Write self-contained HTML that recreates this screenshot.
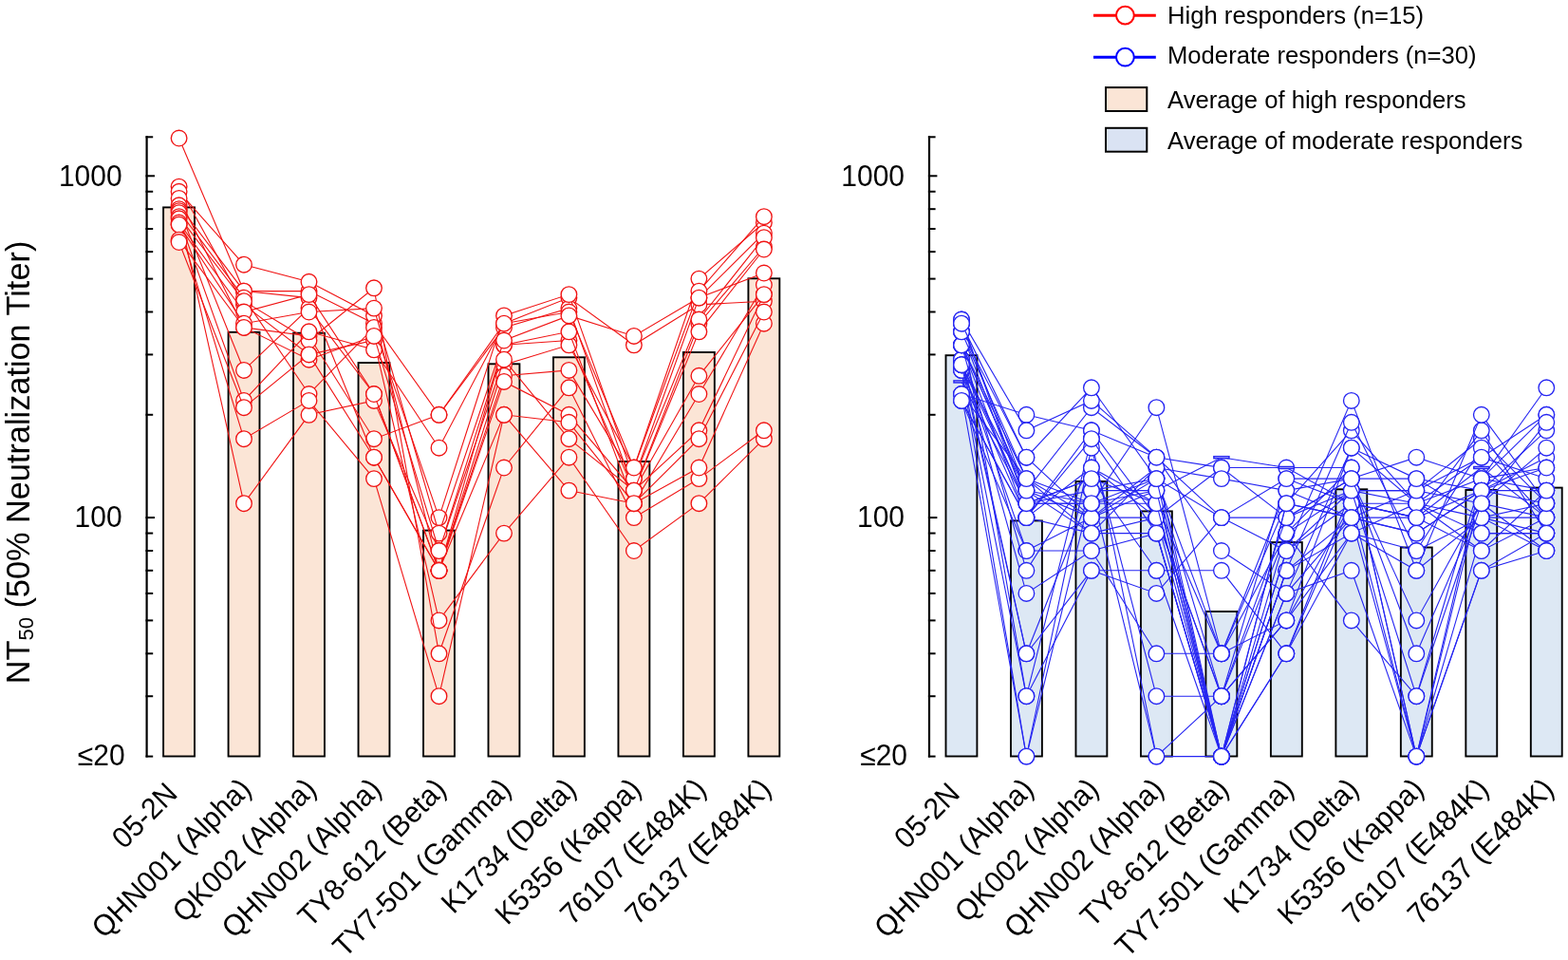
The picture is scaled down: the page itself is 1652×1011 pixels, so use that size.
<!DOCTYPE html><html><head><meta charset="utf-8"><style>html,body{margin:0;padding:0;background:#fff;}svg{display:block;}text{font-family:"Liberation Sans",Arial,sans-serif;fill:#000;}</style></head><body>
<svg width="1652" height="1011" viewBox="0 0 1652 1011">
<rect x="0" y="0" width="1652" height="1011" fill="#fff"/>
<rect x="172.10" y="218.40" width="32.9" height="578.10" fill="#fbe5d6" stroke="#000" stroke-width="1.9"/>
<rect x="240.58" y="349.80" width="32.9" height="446.70" fill="#fbe5d6" stroke="#000" stroke-width="1.9"/>
<rect x="309.06" y="350.70" width="32.9" height="445.80" fill="#fbe5d6" stroke="#000" stroke-width="1.9"/>
<rect x="377.54" y="382.00" width="32.9" height="414.50" fill="#fbe5d6" stroke="#000" stroke-width="1.9"/>
<rect x="446.02" y="558.60" width="32.9" height="237.90" fill="#fbe5d6" stroke="#000" stroke-width="1.9"/>
<rect x="514.50" y="383.30" width="32.9" height="413.20" fill="#fbe5d6" stroke="#000" stroke-width="1.9"/>
<rect x="582.98" y="376.30" width="32.9" height="420.20" fill="#fbe5d6" stroke="#000" stroke-width="1.9"/>
<rect x="651.46" y="486.00" width="32.9" height="310.50" fill="#fbe5d6" stroke="#000" stroke-width="1.9"/>
<rect x="719.94" y="371.00" width="32.9" height="425.50" fill="#fbe5d6" stroke="#000" stroke-width="1.9"/>
<rect x="788.42" y="293.30" width="32.9" height="503.20" fill="#fbe5d6" stroke="#000" stroke-width="1.9"/>
<line x1="154.6" y1="143.2" x2="154.6" y2="797.6" stroke="#000" stroke-width="2.2"/>
<line x1="153.5" y1="144.30" x2="161.2" y2="144.30" stroke="#000" stroke-width="2"/>
<line x1="153.5" y1="201.76" x2="161.2" y2="201.76" stroke="#000" stroke-width="2"/>
<line x1="153.5" y1="220.17" x2="161.2" y2="220.17" stroke="#000" stroke-width="2"/>
<line x1="153.5" y1="241.03" x2="161.2" y2="241.03" stroke="#000" stroke-width="2"/>
<line x1="153.5" y1="265.12" x2="161.2" y2="265.12" stroke="#000" stroke-width="2"/>
<line x1="153.5" y1="293.61" x2="161.2" y2="293.61" stroke="#000" stroke-width="2"/>
<line x1="153.5" y1="328.48" x2="161.2" y2="328.48" stroke="#000" stroke-width="2"/>
<line x1="153.5" y1="373.43" x2="161.2" y2="373.43" stroke="#000" stroke-width="2"/>
<line x1="153.5" y1="436.79" x2="161.2" y2="436.79" stroke="#000" stroke-width="2"/>
<line x1="153.5" y1="561.56" x2="161.2" y2="561.56" stroke="#000" stroke-width="2"/>
<line x1="153.5" y1="579.97" x2="161.2" y2="579.97" stroke="#000" stroke-width="2"/>
<line x1="153.5" y1="600.83" x2="161.2" y2="600.83" stroke="#000" stroke-width="2"/>
<line x1="153.5" y1="624.92" x2="161.2" y2="624.92" stroke="#000" stroke-width="2"/>
<line x1="153.5" y1="653.41" x2="161.2" y2="653.41" stroke="#000" stroke-width="2"/>
<line x1="153.5" y1="688.28" x2="161.2" y2="688.28" stroke="#000" stroke-width="2"/>
<line x1="153.5" y1="733.23" x2="161.2" y2="733.23" stroke="#000" stroke-width="2"/>
<line x1="153.5" y1="796.59" x2="161.2" y2="796.59" stroke="#000" stroke-width="2"/>
<line x1="153.5" y1="185.30" x2="163.0" y2="185.30" stroke="#000" stroke-width="2"/>
<line x1="153.5" y1="545.10" x2="163.0" y2="545.10" stroke="#000" stroke-width="2"/>
<text transform="translate(128.6,195.6) scale(1,1.04)" font-size="30" text-anchor="end">1000</text>
<text transform="translate(128.6,555.2) scale(1,1.04)" font-size="30" text-anchor="end">100</text>
<text transform="translate(131.6,805.5) scale(1,1.04)" font-size="30" text-anchor="end">≤20</text>
<text transform="translate(188.45,837.40) rotate(-45) scale(1,1.04)" font-size="30" text-anchor="end">05-2N</text>
<text transform="translate(266.23,832.70) rotate(-45) scale(1,1.04)" font-size="30" text-anchor="end">QHN001 (Alpha)</text>
<text transform="translate(334.71,832.70) rotate(-45) scale(1,1.04)" font-size="30" text-anchor="end">QK002 (Alpha)</text>
<text transform="translate(403.19,832.70) rotate(-45) scale(1,1.04)" font-size="30" text-anchor="end">QHN002 (Alpha)</text>
<text transform="translate(471.67,832.70) rotate(-45) scale(1,1.04)" font-size="30" text-anchor="end">TY8-612 (Beta)</text>
<text transform="translate(540.15,832.70) rotate(-45) scale(1,1.04)" font-size="30" text-anchor="end">TY7-501 (Gamma)</text>
<text transform="translate(608.63,832.70) rotate(-45) scale(1,1.04)" font-size="30" text-anchor="end">K1734 (Delta)</text>
<text transform="translate(677.11,832.70) rotate(-45) scale(1,1.04)" font-size="30" text-anchor="end">K5356 (Kappa)</text>
<text transform="translate(745.59,832.70) rotate(-45) scale(1,1.04)" font-size="30" text-anchor="end">76107 (E484K)</text>
<text transform="translate(814.07,832.70) rotate(-45) scale(1,1.04)" font-size="30" text-anchor="end">76137 (E484K)</text>
<rect x="996.50" y="374.20" width="32.9" height="422.30" fill="#dde8f4" stroke="#000" stroke-width="1.9"/>
<rect x="1064.98" y="548.40" width="32.9" height="248.10" fill="#dde8f4" stroke="#000" stroke-width="1.9"/>
<rect x="1133.46" y="507.00" width="32.9" height="289.50" fill="#dde8f4" stroke="#000" stroke-width="1.9"/>
<rect x="1201.94" y="538.40" width="32.9" height="258.10" fill="#dde8f4" stroke="#000" stroke-width="1.9"/>
<rect x="1270.42" y="644.00" width="32.9" height="152.50" fill="#dde8f4" stroke="#000" stroke-width="1.9"/>
<rect x="1338.90" y="571.10" width="32.9" height="225.40" fill="#dde8f4" stroke="#000" stroke-width="1.9"/>
<rect x="1407.38" y="515.30" width="32.9" height="281.20" fill="#dde8f4" stroke="#000" stroke-width="1.9"/>
<rect x="1475.86" y="576.50" width="32.9" height="220.00" fill="#dde8f4" stroke="#000" stroke-width="1.9"/>
<rect x="1544.34" y="516.00" width="32.9" height="280.50" fill="#dde8f4" stroke="#000" stroke-width="1.9"/>
<rect x="1612.82" y="513.60" width="32.9" height="282.90" fill="#dde8f4" stroke="#000" stroke-width="1.9"/>
<line x1="979.0" y1="143.2" x2="979.0" y2="797.6" stroke="#000" stroke-width="2.2"/>
<line x1="977.9" y1="144.30" x2="985.6" y2="144.30" stroke="#000" stroke-width="2"/>
<line x1="977.9" y1="201.76" x2="985.6" y2="201.76" stroke="#000" stroke-width="2"/>
<line x1="977.9" y1="220.17" x2="985.6" y2="220.17" stroke="#000" stroke-width="2"/>
<line x1="977.9" y1="241.03" x2="985.6" y2="241.03" stroke="#000" stroke-width="2"/>
<line x1="977.9" y1="265.12" x2="985.6" y2="265.12" stroke="#000" stroke-width="2"/>
<line x1="977.9" y1="293.61" x2="985.6" y2="293.61" stroke="#000" stroke-width="2"/>
<line x1="977.9" y1="328.48" x2="985.6" y2="328.48" stroke="#000" stroke-width="2"/>
<line x1="977.9" y1="373.43" x2="985.6" y2="373.43" stroke="#000" stroke-width="2"/>
<line x1="977.9" y1="436.79" x2="985.6" y2="436.79" stroke="#000" stroke-width="2"/>
<line x1="977.9" y1="561.56" x2="985.6" y2="561.56" stroke="#000" stroke-width="2"/>
<line x1="977.9" y1="579.97" x2="985.6" y2="579.97" stroke="#000" stroke-width="2"/>
<line x1="977.9" y1="600.83" x2="985.6" y2="600.83" stroke="#000" stroke-width="2"/>
<line x1="977.9" y1="624.92" x2="985.6" y2="624.92" stroke="#000" stroke-width="2"/>
<line x1="977.9" y1="653.41" x2="985.6" y2="653.41" stroke="#000" stroke-width="2"/>
<line x1="977.9" y1="688.28" x2="985.6" y2="688.28" stroke="#000" stroke-width="2"/>
<line x1="977.9" y1="733.23" x2="985.6" y2="733.23" stroke="#000" stroke-width="2"/>
<line x1="977.9" y1="796.59" x2="985.6" y2="796.59" stroke="#000" stroke-width="2"/>
<line x1="977.9" y1="185.30" x2="987.4" y2="185.30" stroke="#000" stroke-width="2"/>
<line x1="977.9" y1="545.10" x2="987.4" y2="545.10" stroke="#000" stroke-width="2"/>
<text transform="translate(953.0,195.6) scale(1,1.04)" font-size="30" text-anchor="end">1000</text>
<text transform="translate(953.0,555.2) scale(1,1.04)" font-size="30" text-anchor="end">100</text>
<text transform="translate(956.0,805.5) scale(1,1.04)" font-size="30" text-anchor="end">≤20</text>
<text transform="translate(1012.85,837.40) rotate(-45) scale(1,1.04)" font-size="30" text-anchor="end">05-2N</text>
<text transform="translate(1090.63,832.70) rotate(-45) scale(1,1.04)" font-size="30" text-anchor="end">QHN001 (Alpha)</text>
<text transform="translate(1159.11,832.70) rotate(-45) scale(1,1.04)" font-size="30" text-anchor="end">QK002 (Alpha)</text>
<text transform="translate(1227.59,832.70) rotate(-45) scale(1,1.04)" font-size="30" text-anchor="end">QHN002 (Alpha)</text>
<text transform="translate(1296.07,832.70) rotate(-45) scale(1,1.04)" font-size="30" text-anchor="end">TY8-612 (Beta)</text>
<text transform="translate(1364.55,832.70) rotate(-45) scale(1,1.04)" font-size="30" text-anchor="end">TY7-501 (Gamma)</text>
<text transform="translate(1433.03,832.70) rotate(-45) scale(1,1.04)" font-size="30" text-anchor="end">K1734 (Delta)</text>
<text transform="translate(1501.51,832.70) rotate(-45) scale(1,1.04)" font-size="30" text-anchor="end">K5356 (Kappa)</text>
<text transform="translate(1569.99,832.70) rotate(-45) scale(1,1.04)" font-size="30" text-anchor="end">76107 (E484K)</text>
<text transform="translate(1638.47,832.70) rotate(-45) scale(1,1.04)" font-size="30" text-anchor="end">76137 (E484K)</text>
<path d="M188.6,145.5 L257.0,306.6 L325.5,306.6 L394.0,340.7 L462.5,436.8 L531.0,340.7 L599.4,313.6 L667.9,363.3 L736.4,320.9 L804.9,317.2" fill="none" stroke="#f01414" stroke-width="1.1"/>
<circle cx="188.6" cy="145.5" r="8.3" fill="#fff" stroke="#f01414" stroke-width="1.35"/>
<circle cx="257.0" cy="306.6" r="8.3" fill="#fff" stroke="#f01414" stroke-width="1.35"/>
<circle cx="325.5" cy="306.6" r="8.3" fill="#fff" stroke="#f01414" stroke-width="1.35"/>
<circle cx="394.0" cy="340.7" r="8.3" fill="#fff" stroke="#f01414" stroke-width="1.35"/>
<circle cx="462.5" cy="436.8" r="8.3" fill="#fff" stroke="#f01414" stroke-width="1.35"/>
<circle cx="531.0" cy="340.7" r="8.3" fill="#fff" stroke="#f01414" stroke-width="1.35"/>
<circle cx="599.4" cy="313.6" r="8.3" fill="#fff" stroke="#f01414" stroke-width="1.35"/>
<circle cx="667.9" cy="363.3" r="8.3" fill="#fff" stroke="#f01414" stroke-width="1.35"/>
<circle cx="736.4" cy="320.9" r="8.3" fill="#fff" stroke="#f01414" stroke-width="1.35"/>
<circle cx="804.9" cy="317.2" r="8.3" fill="#fff" stroke="#f01414" stroke-width="1.35"/>
<path d="M188.6,196.6 L257.0,320.9 L325.5,373.4 L394.0,358.5 L462.5,653.4 L531.0,561.6 L599.4,481.7 L667.9,580.0 L736.4,530.2 L804.9,462.2" fill="none" stroke="#f01414" stroke-width="1.1"/>
<circle cx="188.6" cy="196.6" r="8.3" fill="#fff" stroke="#f01414" stroke-width="1.35"/>
<circle cx="257.0" cy="320.9" r="8.3" fill="#fff" stroke="#f01414" stroke-width="1.35"/>
<circle cx="325.5" cy="373.4" r="8.3" fill="#fff" stroke="#f01414" stroke-width="1.35"/>
<circle cx="394.0" cy="358.5" r="8.3" fill="#fff" stroke="#f01414" stroke-width="1.35"/>
<circle cx="462.5" cy="653.4" r="8.3" fill="#fff" stroke="#f01414" stroke-width="1.35"/>
<circle cx="531.0" cy="561.6" r="8.3" fill="#fff" stroke="#f01414" stroke-width="1.35"/>
<circle cx="599.4" cy="481.7" r="8.3" fill="#fff" stroke="#f01414" stroke-width="1.35"/>
<circle cx="667.9" cy="580.0" r="8.3" fill="#fff" stroke="#f01414" stroke-width="1.35"/>
<circle cx="736.4" cy="530.2" r="8.3" fill="#fff" stroke="#f01414" stroke-width="1.35"/>
<circle cx="804.9" cy="462.2" r="8.3" fill="#fff" stroke="#f01414" stroke-width="1.35"/>
<path d="M188.6,201.8 L257.0,278.7 L325.5,296.8 L394.0,332.4 L462.5,600.8 L531.0,363.3 L599.4,358.5 L667.9,516.6 L736.4,340.7 L804.9,260.0" fill="none" stroke="#f01414" stroke-width="1.1"/>
<circle cx="188.6" cy="201.8" r="8.3" fill="#fff" stroke="#f01414" stroke-width="1.35"/>
<circle cx="257.0" cy="278.7" r="8.3" fill="#fff" stroke="#f01414" stroke-width="1.35"/>
<circle cx="325.5" cy="296.8" r="8.3" fill="#fff" stroke="#f01414" stroke-width="1.35"/>
<circle cx="394.0" cy="332.4" r="8.3" fill="#fff" stroke="#f01414" stroke-width="1.35"/>
<circle cx="462.5" cy="600.8" r="8.3" fill="#fff" stroke="#f01414" stroke-width="1.35"/>
<circle cx="531.0" cy="363.3" r="8.3" fill="#fff" stroke="#f01414" stroke-width="1.35"/>
<circle cx="599.4" cy="358.5" r="8.3" fill="#fff" stroke="#f01414" stroke-width="1.35"/>
<circle cx="667.9" cy="516.6" r="8.3" fill="#fff" stroke="#f01414" stroke-width="1.35"/>
<circle cx="736.4" cy="340.7" r="8.3" fill="#fff" stroke="#f01414" stroke-width="1.35"/>
<circle cx="804.9" cy="260.0" r="8.3" fill="#fff" stroke="#f01414" stroke-width="1.35"/>
<path d="M188.6,208.9 L257.0,344.9 L325.5,353.9 L394.0,462.2 L462.5,436.8 L531.0,344.9 L599.4,324.6 L667.9,516.6 L736.4,395.8 L804.9,310.1" fill="none" stroke="#f01414" stroke-width="1.1"/>
<circle cx="188.6" cy="208.9" r="8.3" fill="#fff" stroke="#f01414" stroke-width="1.35"/>
<circle cx="257.0" cy="344.9" r="8.3" fill="#fff" stroke="#f01414" stroke-width="1.35"/>
<circle cx="325.5" cy="353.9" r="8.3" fill="#fff" stroke="#f01414" stroke-width="1.35"/>
<circle cx="394.0" cy="462.2" r="8.3" fill="#fff" stroke="#f01414" stroke-width="1.35"/>
<circle cx="462.5" cy="436.8" r="8.3" fill="#fff" stroke="#f01414" stroke-width="1.35"/>
<circle cx="531.0" cy="344.9" r="8.3" fill="#fff" stroke="#f01414" stroke-width="1.35"/>
<circle cx="599.4" cy="324.6" r="8.3" fill="#fff" stroke="#f01414" stroke-width="1.35"/>
<circle cx="667.9" cy="516.6" r="8.3" fill="#fff" stroke="#f01414" stroke-width="1.35"/>
<circle cx="736.4" cy="395.8" r="8.3" fill="#fff" stroke="#f01414" stroke-width="1.35"/>
<circle cx="804.9" cy="310.1" r="8.3" fill="#fff" stroke="#f01414" stroke-width="1.35"/>
<path d="M188.6,216.3 L257.0,306.6 L325.5,313.6 L394.0,481.7 L462.5,600.8 L531.0,384.2 L599.4,363.3 L667.9,492.5 L736.4,293.6 L804.9,234.5" fill="none" stroke="#f01414" stroke-width="1.1"/>
<circle cx="188.6" cy="216.3" r="8.3" fill="#fff" stroke="#f01414" stroke-width="1.35"/>
<circle cx="257.0" cy="306.6" r="8.3" fill="#fff" stroke="#f01414" stroke-width="1.35"/>
<circle cx="325.5" cy="313.6" r="8.3" fill="#fff" stroke="#f01414" stroke-width="1.35"/>
<circle cx="394.0" cy="481.7" r="8.3" fill="#fff" stroke="#f01414" stroke-width="1.35"/>
<circle cx="462.5" cy="600.8" r="8.3" fill="#fff" stroke="#f01414" stroke-width="1.35"/>
<circle cx="531.0" cy="384.2" r="8.3" fill="#fff" stroke="#f01414" stroke-width="1.35"/>
<circle cx="599.4" cy="363.3" r="8.3" fill="#fff" stroke="#f01414" stroke-width="1.35"/>
<circle cx="667.9" cy="492.5" r="8.3" fill="#fff" stroke="#f01414" stroke-width="1.35"/>
<circle cx="736.4" cy="293.6" r="8.3" fill="#fff" stroke="#f01414" stroke-width="1.35"/>
<circle cx="804.9" cy="234.5" r="8.3" fill="#fff" stroke="#f01414" stroke-width="1.35"/>
<path d="M188.6,220.2 L257.0,389.9 L325.5,324.6 L394.0,415.0 L462.5,600.8 L531.0,395.8 L599.4,389.9 L667.9,504.1 L736.4,313.6 L804.9,245.6" fill="none" stroke="#f01414" stroke-width="1.1"/>
<circle cx="188.6" cy="220.2" r="8.3" fill="#fff" stroke="#f01414" stroke-width="1.35"/>
<circle cx="257.0" cy="389.9" r="8.3" fill="#fff" stroke="#f01414" stroke-width="1.35"/>
<circle cx="325.5" cy="324.6" r="8.3" fill="#fff" stroke="#f01414" stroke-width="1.35"/>
<circle cx="394.0" cy="415.0" r="8.3" fill="#fff" stroke="#f01414" stroke-width="1.35"/>
<circle cx="462.5" cy="600.8" r="8.3" fill="#fff" stroke="#f01414" stroke-width="1.35"/>
<circle cx="531.0" cy="395.8" r="8.3" fill="#fff" stroke="#f01414" stroke-width="1.35"/>
<circle cx="599.4" cy="389.9" r="8.3" fill="#fff" stroke="#f01414" stroke-width="1.35"/>
<circle cx="667.9" cy="504.1" r="8.3" fill="#fff" stroke="#f01414" stroke-width="1.35"/>
<circle cx="736.4" cy="313.6" r="8.3" fill="#fff" stroke="#f01414" stroke-width="1.35"/>
<circle cx="804.9" cy="245.6" r="8.3" fill="#fff" stroke="#f01414" stroke-width="1.35"/>
<path d="M188.6,222.1 L257.0,313.6 L325.5,415.0 L394.0,344.9 L462.5,545.1 L531.0,332.4 L599.4,310.1 L667.9,504.1 L736.4,336.5 L804.9,250.2" fill="none" stroke="#f01414" stroke-width="1.1"/>
<circle cx="188.6" cy="222.1" r="8.3" fill="#fff" stroke="#f01414" stroke-width="1.35"/>
<circle cx="257.0" cy="313.6" r="8.3" fill="#fff" stroke="#f01414" stroke-width="1.35"/>
<circle cx="325.5" cy="415.0" r="8.3" fill="#fff" stroke="#f01414" stroke-width="1.35"/>
<circle cx="394.0" cy="344.9" r="8.3" fill="#fff" stroke="#f01414" stroke-width="1.35"/>
<circle cx="462.5" cy="545.1" r="8.3" fill="#fff" stroke="#f01414" stroke-width="1.35"/>
<circle cx="531.0" cy="332.4" r="8.3" fill="#fff" stroke="#f01414" stroke-width="1.35"/>
<circle cx="599.4" cy="310.1" r="8.3" fill="#fff" stroke="#f01414" stroke-width="1.35"/>
<circle cx="667.9" cy="504.1" r="8.3" fill="#fff" stroke="#f01414" stroke-width="1.35"/>
<circle cx="736.4" cy="336.5" r="8.3" fill="#fff" stroke="#f01414" stroke-width="1.35"/>
<circle cx="804.9" cy="250.2" r="8.3" fill="#fff" stroke="#f01414" stroke-width="1.35"/>
<path d="M188.6,224.1 L257.0,530.2 L325.5,436.8 L394.0,421.9 L462.5,580.0 L531.0,363.3 L599.4,349.3 L667.9,530.2 L736.4,415.0 L804.9,300.0" fill="none" stroke="#f01414" stroke-width="1.1"/>
<circle cx="188.6" cy="224.1" r="8.3" fill="#fff" stroke="#f01414" stroke-width="1.35"/>
<circle cx="257.0" cy="530.2" r="8.3" fill="#fff" stroke="#f01414" stroke-width="1.35"/>
<circle cx="325.5" cy="436.8" r="8.3" fill="#fff" stroke="#f01414" stroke-width="1.35"/>
<circle cx="394.0" cy="421.9" r="8.3" fill="#fff" stroke="#f01414" stroke-width="1.35"/>
<circle cx="462.5" cy="580.0" r="8.3" fill="#fff" stroke="#f01414" stroke-width="1.35"/>
<circle cx="531.0" cy="363.3" r="8.3" fill="#fff" stroke="#f01414" stroke-width="1.35"/>
<circle cx="599.4" cy="349.3" r="8.3" fill="#fff" stroke="#f01414" stroke-width="1.35"/>
<circle cx="667.9" cy="530.2" r="8.3" fill="#fff" stroke="#f01414" stroke-width="1.35"/>
<circle cx="736.4" cy="415.0" r="8.3" fill="#fff" stroke="#f01414" stroke-width="1.35"/>
<circle cx="804.9" cy="300.0" r="8.3" fill="#fff" stroke="#f01414" stroke-width="1.35"/>
<path d="M188.6,228.2 L257.0,317.2 L325.5,358.5 L394.0,303.3 L462.5,688.3 L531.0,492.5 L599.4,408.3 L667.9,545.1 L736.4,504.1 L804.9,453.3" fill="none" stroke="#f01414" stroke-width="1.1"/>
<circle cx="188.6" cy="228.2" r="8.3" fill="#fff" stroke="#f01414" stroke-width="1.35"/>
<circle cx="257.0" cy="317.2" r="8.3" fill="#fff" stroke="#f01414" stroke-width="1.35"/>
<circle cx="325.5" cy="358.5" r="8.3" fill="#fff" stroke="#f01414" stroke-width="1.35"/>
<circle cx="394.0" cy="303.3" r="8.3" fill="#fff" stroke="#f01414" stroke-width="1.35"/>
<circle cx="462.5" cy="688.3" r="8.3" fill="#fff" stroke="#f01414" stroke-width="1.35"/>
<circle cx="531.0" cy="492.5" r="8.3" fill="#fff" stroke="#f01414" stroke-width="1.35"/>
<circle cx="599.4" cy="408.3" r="8.3" fill="#fff" stroke="#f01414" stroke-width="1.35"/>
<circle cx="667.9" cy="545.1" r="8.3" fill="#fff" stroke="#f01414" stroke-width="1.35"/>
<circle cx="736.4" cy="504.1" r="8.3" fill="#fff" stroke="#f01414" stroke-width="1.35"/>
<circle cx="804.9" cy="453.3" r="8.3" fill="#fff" stroke="#f01414" stroke-width="1.35"/>
<path d="M188.6,230.3 L257.0,421.9 L325.5,349.3 L394.0,368.3 L462.5,471.7 L531.0,340.7 L599.4,328.5 L667.9,492.5 L736.4,306.6 L804.9,228.2" fill="none" stroke="#f01414" stroke-width="1.1"/>
<circle cx="188.6" cy="230.3" r="8.3" fill="#fff" stroke="#f01414" stroke-width="1.35"/>
<circle cx="257.0" cy="421.9" r="8.3" fill="#fff" stroke="#f01414" stroke-width="1.35"/>
<circle cx="325.5" cy="349.3" r="8.3" fill="#fff" stroke="#f01414" stroke-width="1.35"/>
<circle cx="394.0" cy="368.3" r="8.3" fill="#fff" stroke="#f01414" stroke-width="1.35"/>
<circle cx="462.5" cy="471.7" r="8.3" fill="#fff" stroke="#f01414" stroke-width="1.35"/>
<circle cx="531.0" cy="340.7" r="8.3" fill="#fff" stroke="#f01414" stroke-width="1.35"/>
<circle cx="599.4" cy="328.5" r="8.3" fill="#fff" stroke="#f01414" stroke-width="1.35"/>
<circle cx="667.9" cy="492.5" r="8.3" fill="#fff" stroke="#f01414" stroke-width="1.35"/>
<circle cx="736.4" cy="306.6" r="8.3" fill="#fff" stroke="#f01414" stroke-width="1.35"/>
<circle cx="804.9" cy="228.2" r="8.3" fill="#fff" stroke="#f01414" stroke-width="1.35"/>
<path d="M188.6,234.5 L257.0,328.5 L325.5,310.1 L394.0,415.0 L462.5,600.8 L531.0,401.9 L599.4,436.8 L667.9,516.6 L736.4,349.3 L804.9,262.5" fill="none" stroke="#f01414" stroke-width="1.1"/>
<circle cx="188.6" cy="234.5" r="8.3" fill="#fff" stroke="#f01414" stroke-width="1.35"/>
<circle cx="257.0" cy="328.5" r="8.3" fill="#fff" stroke="#f01414" stroke-width="1.35"/>
<circle cx="325.5" cy="310.1" r="8.3" fill="#fff" stroke="#f01414" stroke-width="1.35"/>
<circle cx="394.0" cy="415.0" r="8.3" fill="#fff" stroke="#f01414" stroke-width="1.35"/>
<circle cx="462.5" cy="600.8" r="8.3" fill="#fff" stroke="#f01414" stroke-width="1.35"/>
<circle cx="531.0" cy="401.9" r="8.3" fill="#fff" stroke="#f01414" stroke-width="1.35"/>
<circle cx="599.4" cy="436.8" r="8.3" fill="#fff" stroke="#f01414" stroke-width="1.35"/>
<circle cx="667.9" cy="516.6" r="8.3" fill="#fff" stroke="#f01414" stroke-width="1.35"/>
<circle cx="736.4" cy="349.3" r="8.3" fill="#fff" stroke="#f01414" stroke-width="1.35"/>
<circle cx="804.9" cy="262.5" r="8.3" fill="#fff" stroke="#f01414" stroke-width="1.35"/>
<path d="M188.6,236.6 L257.0,340.7 L325.5,328.5 L394.0,324.6 L462.5,561.6 L531.0,358.5 L599.4,332.4 L667.9,353.9 L736.4,313.6 L804.9,287.5" fill="none" stroke="#f01414" stroke-width="1.1"/>
<circle cx="188.6" cy="236.6" r="8.3" fill="#fff" stroke="#f01414" stroke-width="1.35"/>
<circle cx="257.0" cy="340.7" r="8.3" fill="#fff" stroke="#f01414" stroke-width="1.35"/>
<circle cx="325.5" cy="328.5" r="8.3" fill="#fff" stroke="#f01414" stroke-width="1.35"/>
<circle cx="394.0" cy="324.6" r="8.3" fill="#fff" stroke="#f01414" stroke-width="1.35"/>
<circle cx="462.5" cy="561.6" r="8.3" fill="#fff" stroke="#f01414" stroke-width="1.35"/>
<circle cx="531.0" cy="358.5" r="8.3" fill="#fff" stroke="#f01414" stroke-width="1.35"/>
<circle cx="599.4" cy="332.4" r="8.3" fill="#fff" stroke="#f01414" stroke-width="1.35"/>
<circle cx="667.9" cy="353.9" r="8.3" fill="#fff" stroke="#f01414" stroke-width="1.35"/>
<circle cx="736.4" cy="313.6" r="8.3" fill="#fff" stroke="#f01414" stroke-width="1.35"/>
<circle cx="804.9" cy="287.5" r="8.3" fill="#fff" stroke="#f01414" stroke-width="1.35"/>
<path d="M188.6,236.6 L257.0,462.2 L325.5,421.9 L394.0,504.1 L462.5,733.2 L531.0,436.8 L599.4,444.8 L667.9,530.2 L736.4,492.5 L804.9,340.7" fill="none" stroke="#f01414" stroke-width="1.1"/>
<circle cx="188.6" cy="236.6" r="8.3" fill="#fff" stroke="#f01414" stroke-width="1.35"/>
<circle cx="257.0" cy="462.2" r="8.3" fill="#fff" stroke="#f01414" stroke-width="1.35"/>
<circle cx="325.5" cy="421.9" r="8.3" fill="#fff" stroke="#f01414" stroke-width="1.35"/>
<circle cx="394.0" cy="504.1" r="8.3" fill="#fff" stroke="#f01414" stroke-width="1.35"/>
<circle cx="462.5" cy="733.2" r="8.3" fill="#fff" stroke="#f01414" stroke-width="1.35"/>
<circle cx="531.0" cy="436.8" r="8.3" fill="#fff" stroke="#f01414" stroke-width="1.35"/>
<circle cx="599.4" cy="444.8" r="8.3" fill="#fff" stroke="#f01414" stroke-width="1.35"/>
<circle cx="667.9" cy="530.2" r="8.3" fill="#fff" stroke="#f01414" stroke-width="1.35"/>
<circle cx="736.4" cy="492.5" r="8.3" fill="#fff" stroke="#f01414" stroke-width="1.35"/>
<circle cx="804.9" cy="340.7" r="8.3" fill="#fff" stroke="#f01414" stroke-width="1.35"/>
<path d="M188.6,252.6 L257.0,344.9 L325.5,378.7 L394.0,353.9 L462.5,580.0 L531.0,378.7 L599.4,462.2 L667.9,516.6 L736.4,453.3 L804.9,310.1" fill="none" stroke="#f01414" stroke-width="1.1"/>
<circle cx="188.6" cy="252.6" r="8.3" fill="#fff" stroke="#f01414" stroke-width="1.35"/>
<circle cx="257.0" cy="344.9" r="8.3" fill="#fff" stroke="#f01414" stroke-width="1.35"/>
<circle cx="325.5" cy="378.7" r="8.3" fill="#fff" stroke="#f01414" stroke-width="1.35"/>
<circle cx="394.0" cy="353.9" r="8.3" fill="#fff" stroke="#f01414" stroke-width="1.35"/>
<circle cx="462.5" cy="580.0" r="8.3" fill="#fff" stroke="#f01414" stroke-width="1.35"/>
<circle cx="531.0" cy="378.7" r="8.3" fill="#fff" stroke="#f01414" stroke-width="1.35"/>
<circle cx="599.4" cy="462.2" r="8.3" fill="#fff" stroke="#f01414" stroke-width="1.35"/>
<circle cx="667.9" cy="516.6" r="8.3" fill="#fff" stroke="#f01414" stroke-width="1.35"/>
<circle cx="736.4" cy="453.3" r="8.3" fill="#fff" stroke="#f01414" stroke-width="1.35"/>
<circle cx="804.9" cy="310.1" r="8.3" fill="#fff" stroke="#f01414" stroke-width="1.35"/>
<path d="M188.6,255.0 L257.0,429.2 L325.5,373.4 L394.0,481.7 L462.5,600.8 L531.0,436.8 L599.4,516.6 L667.9,530.2 L736.4,462.2 L804.9,328.5" fill="none" stroke="#f01414" stroke-width="1.1"/>
<circle cx="188.6" cy="255.0" r="8.3" fill="#fff" stroke="#f01414" stroke-width="1.35"/>
<circle cx="257.0" cy="429.2" r="8.3" fill="#fff" stroke="#f01414" stroke-width="1.35"/>
<circle cx="325.5" cy="373.4" r="8.3" fill="#fff" stroke="#f01414" stroke-width="1.35"/>
<circle cx="394.0" cy="481.7" r="8.3" fill="#fff" stroke="#f01414" stroke-width="1.35"/>
<circle cx="462.5" cy="600.8" r="8.3" fill="#fff" stroke="#f01414" stroke-width="1.35"/>
<circle cx="531.0" cy="436.8" r="8.3" fill="#fff" stroke="#f01414" stroke-width="1.35"/>
<circle cx="599.4" cy="516.6" r="8.3" fill="#fff" stroke="#f01414" stroke-width="1.35"/>
<circle cx="667.9" cy="530.2" r="8.3" fill="#fff" stroke="#f01414" stroke-width="1.35"/>
<circle cx="736.4" cy="462.2" r="8.3" fill="#fff" stroke="#f01414" stroke-width="1.35"/>
<circle cx="804.9" cy="328.5" r="8.3" fill="#fff" stroke="#f01414" stroke-width="1.35"/>
<path d="M1013.0,389.9 L1081.4,545.1 L1149.9,453.3 L1218.4,545.1 L1286.9,492.5 L1355.3,492.5 L1423.8,492.5 L1492.3,796.6 L1560.8,516.6 L1629.3,530.2" fill="none" stroke="#2626f2" stroke-width="1.1"/>
<circle cx="1013.0" cy="389.9" r="8.3" fill="#fff" stroke="#2626f2" stroke-width="1.35"/>
<circle cx="1081.4" cy="545.1" r="8.3" fill="#fff" stroke="#2626f2" stroke-width="1.35"/>
<circle cx="1149.9" cy="453.3" r="8.3" fill="#fff" stroke="#2626f2" stroke-width="1.35"/>
<circle cx="1218.4" cy="545.1" r="8.3" fill="#fff" stroke="#2626f2" stroke-width="1.35"/>
<circle cx="1286.9" cy="492.5" r="8.3" fill="#fff" stroke="#2626f2" stroke-width="1.35"/>
<circle cx="1355.3" cy="492.5" r="8.3" fill="#fff" stroke="#2626f2" stroke-width="1.35"/>
<circle cx="1423.8" cy="492.5" r="8.3" fill="#fff" stroke="#2626f2" stroke-width="1.35"/>
<circle cx="1492.3" cy="796.6" r="8.3" fill="#fff" stroke="#2626f2" stroke-width="1.35"/>
<circle cx="1560.8" cy="516.6" r="8.3" fill="#fff" stroke="#2626f2" stroke-width="1.35"/>
<circle cx="1629.3" cy="530.2" r="8.3" fill="#fff" stroke="#2626f2" stroke-width="1.35"/>
<path d="M1013.0,401.9 L1081.4,530.2 L1149.9,530.2 L1218.4,516.6 L1286.9,481.7 L1355.3,492.5 L1423.8,530.2 L1492.3,545.1 L1560.8,492.5 L1629.3,545.1" fill="none" stroke="#2626f2" stroke-width="1.1"/>
<rect x="1005.0" y="400.9" width="16.0" height="2.0" fill="#fff" stroke="#2626f2" stroke-width="1.5"/>
<rect x="1073.4" y="529.2" width="16.0" height="2.0" fill="#fff" stroke="#2626f2" stroke-width="1.5"/>
<rect x="1141.9" y="529.2" width="16.0" height="2.0" fill="#fff" stroke="#2626f2" stroke-width="1.5"/>
<rect x="1210.4" y="515.6" width="16.0" height="2.0" fill="#fff" stroke="#2626f2" stroke-width="1.5"/>
<rect x="1278.9" y="480.7" width="16.0" height="2.0" fill="#fff" stroke="#2626f2" stroke-width="1.5"/>
<rect x="1347.3" y="491.5" width="16.0" height="2.0" fill="#fff" stroke="#2626f2" stroke-width="1.5"/>
<rect x="1415.8" y="529.2" width="16.0" height="2.0" fill="#fff" stroke="#2626f2" stroke-width="1.5"/>
<rect x="1484.3" y="544.1" width="16.0" height="2.0" fill="#fff" stroke="#2626f2" stroke-width="1.5"/>
<rect x="1552.8" y="491.5" width="16.0" height="2.0" fill="#fff" stroke="#2626f2" stroke-width="1.5"/>
<rect x="1621.3" y="544.1" width="16.0" height="2.0" fill="#fff" stroke="#2626f2" stroke-width="1.5"/>
<path d="M1013.0,389.9 L1081.4,796.6 L1149.9,516.6 L1218.4,796.6 L1286.9,796.6 L1355.3,580.0 L1423.8,530.2 L1492.3,545.1 L1560.8,516.6 L1629.3,481.7" fill="none" stroke="#2626f2" stroke-width="1.1"/>
<circle cx="1013.0" cy="389.9" r="8.3" fill="#fff" stroke="#2626f2" stroke-width="1.35"/>
<circle cx="1081.4" cy="796.6" r="8.3" fill="#fff" stroke="#2626f2" stroke-width="1.35"/>
<circle cx="1149.9" cy="516.6" r="8.3" fill="#fff" stroke="#2626f2" stroke-width="1.35"/>
<circle cx="1218.4" cy="796.6" r="8.3" fill="#fff" stroke="#2626f2" stroke-width="1.35"/>
<circle cx="1286.9" cy="796.6" r="8.3" fill="#fff" stroke="#2626f2" stroke-width="1.35"/>
<circle cx="1355.3" cy="580.0" r="8.3" fill="#fff" stroke="#2626f2" stroke-width="1.35"/>
<circle cx="1423.8" cy="530.2" r="8.3" fill="#fff" stroke="#2626f2" stroke-width="1.35"/>
<circle cx="1492.3" cy="545.1" r="8.3" fill="#fff" stroke="#2626f2" stroke-width="1.35"/>
<circle cx="1560.8" cy="516.6" r="8.3" fill="#fff" stroke="#2626f2" stroke-width="1.35"/>
<circle cx="1629.3" cy="481.7" r="8.3" fill="#fff" stroke="#2626f2" stroke-width="1.35"/>
<path d="M1013.0,389.9 L1081.4,733.2 L1149.9,462.2 L1218.4,796.6 L1286.9,733.2 L1355.3,653.4 L1423.8,530.2 L1492.3,530.2 L1560.8,561.6 L1629.3,561.6" fill="none" stroke="#2626f2" stroke-width="1.1"/>
<circle cx="1013.0" cy="389.9" r="8.3" fill="#fff" stroke="#2626f2" stroke-width="1.35"/>
<circle cx="1081.4" cy="733.2" r="8.3" fill="#fff" stroke="#2626f2" stroke-width="1.35"/>
<circle cx="1149.9" cy="462.2" r="8.3" fill="#fff" stroke="#2626f2" stroke-width="1.35"/>
<circle cx="1218.4" cy="796.6" r="8.3" fill="#fff" stroke="#2626f2" stroke-width="1.35"/>
<circle cx="1286.9" cy="733.2" r="8.3" fill="#fff" stroke="#2626f2" stroke-width="1.35"/>
<circle cx="1355.3" cy="653.4" r="8.3" fill="#fff" stroke="#2626f2" stroke-width="1.35"/>
<circle cx="1423.8" cy="530.2" r="8.3" fill="#fff" stroke="#2626f2" stroke-width="1.35"/>
<circle cx="1492.3" cy="530.2" r="8.3" fill="#fff" stroke="#2626f2" stroke-width="1.35"/>
<circle cx="1560.8" cy="561.6" r="8.3" fill="#fff" stroke="#2626f2" stroke-width="1.35"/>
<circle cx="1629.3" cy="561.6" r="8.3" fill="#fff" stroke="#2626f2" stroke-width="1.35"/>
<path d="M1013.0,415.0 L1081.4,796.6 L1149.9,471.7 L1218.4,733.2 L1286.9,733.2 L1355.3,504.1 L1423.8,530.2 L1492.3,796.6 L1560.8,561.6 L1629.3,561.6" fill="none" stroke="#2626f2" stroke-width="1.1"/>
<circle cx="1013.0" cy="415.0" r="8.3" fill="#fff" stroke="#2626f2" stroke-width="1.35"/>
<circle cx="1081.4" cy="796.6" r="8.3" fill="#fff" stroke="#2626f2" stroke-width="1.35"/>
<circle cx="1149.9" cy="471.7" r="8.3" fill="#fff" stroke="#2626f2" stroke-width="1.35"/>
<circle cx="1218.4" cy="733.2" r="8.3" fill="#fff" stroke="#2626f2" stroke-width="1.35"/>
<circle cx="1286.9" cy="733.2" r="8.3" fill="#fff" stroke="#2626f2" stroke-width="1.35"/>
<circle cx="1355.3" cy="504.1" r="8.3" fill="#fff" stroke="#2626f2" stroke-width="1.35"/>
<circle cx="1423.8" cy="530.2" r="8.3" fill="#fff" stroke="#2626f2" stroke-width="1.35"/>
<circle cx="1492.3" cy="796.6" r="8.3" fill="#fff" stroke="#2626f2" stroke-width="1.35"/>
<circle cx="1560.8" cy="561.6" r="8.3" fill="#fff" stroke="#2626f2" stroke-width="1.35"/>
<circle cx="1629.3" cy="561.6" r="8.3" fill="#fff" stroke="#2626f2" stroke-width="1.35"/>
<path d="M1013.0,363.3 L1081.4,516.6 L1149.9,530.2 L1218.4,530.2 L1286.9,796.6 L1355.3,561.6 L1423.8,653.4 L1492.3,733.2 L1560.8,504.1 L1629.3,492.5" fill="none" stroke="#2626f2" stroke-width="1.1"/>
<circle cx="1013.0" cy="363.3" r="8.3" fill="#fff" stroke="#2626f2" stroke-width="1.35"/>
<circle cx="1081.4" cy="516.6" r="8.3" fill="#fff" stroke="#2626f2" stroke-width="1.35"/>
<circle cx="1149.9" cy="530.2" r="8.3" fill="#fff" stroke="#2626f2" stroke-width="1.35"/>
<circle cx="1218.4" cy="530.2" r="8.3" fill="#fff" stroke="#2626f2" stroke-width="1.35"/>
<circle cx="1286.9" cy="796.6" r="8.3" fill="#fff" stroke="#2626f2" stroke-width="1.35"/>
<circle cx="1355.3" cy="561.6" r="8.3" fill="#fff" stroke="#2626f2" stroke-width="1.35"/>
<circle cx="1423.8" cy="653.4" r="8.3" fill="#fff" stroke="#2626f2" stroke-width="1.35"/>
<circle cx="1492.3" cy="733.2" r="8.3" fill="#fff" stroke="#2626f2" stroke-width="1.35"/>
<circle cx="1560.8" cy="504.1" r="8.3" fill="#fff" stroke="#2626f2" stroke-width="1.35"/>
<circle cx="1629.3" cy="492.5" r="8.3" fill="#fff" stroke="#2626f2" stroke-width="1.35"/>
<path d="M1013.0,340.7 L1081.4,733.2 L1149.9,600.8 L1218.4,624.9 L1286.9,545.1 L1355.3,545.1 L1423.8,504.1 L1492.3,481.7 L1560.8,504.1 L1629.3,408.3" fill="none" stroke="#2626f2" stroke-width="1.1"/>
<circle cx="1013.0" cy="340.7" r="8.3" fill="#fff" stroke="#2626f2" stroke-width="1.35"/>
<circle cx="1081.4" cy="733.2" r="8.3" fill="#fff" stroke="#2626f2" stroke-width="1.35"/>
<circle cx="1149.9" cy="600.8" r="8.3" fill="#fff" stroke="#2626f2" stroke-width="1.35"/>
<circle cx="1218.4" cy="624.9" r="8.3" fill="#fff" stroke="#2626f2" stroke-width="1.35"/>
<circle cx="1286.9" cy="545.1" r="8.3" fill="#fff" stroke="#2626f2" stroke-width="1.35"/>
<circle cx="1355.3" cy="545.1" r="8.3" fill="#fff" stroke="#2626f2" stroke-width="1.35"/>
<circle cx="1423.8" cy="504.1" r="8.3" fill="#fff" stroke="#2626f2" stroke-width="1.35"/>
<circle cx="1492.3" cy="481.7" r="8.3" fill="#fff" stroke="#2626f2" stroke-width="1.35"/>
<circle cx="1560.8" cy="504.1" r="8.3" fill="#fff" stroke="#2626f2" stroke-width="1.35"/>
<circle cx="1629.3" cy="408.3" r="8.3" fill="#fff" stroke="#2626f2" stroke-width="1.35"/>
<path d="M1013.0,378.7 L1081.4,688.3 L1149.9,516.6 L1218.4,504.1 L1286.9,733.2 L1355.3,561.6 L1423.8,516.6 L1492.3,516.6 L1560.8,481.7 L1629.3,504.1" fill="none" stroke="#2626f2" stroke-width="1.1"/>
<circle cx="1013.0" cy="378.7" r="8.3" fill="#fff" stroke="#2626f2" stroke-width="1.35"/>
<circle cx="1081.4" cy="688.3" r="8.3" fill="#fff" stroke="#2626f2" stroke-width="1.35"/>
<circle cx="1149.9" cy="516.6" r="8.3" fill="#fff" stroke="#2626f2" stroke-width="1.35"/>
<circle cx="1218.4" cy="504.1" r="8.3" fill="#fff" stroke="#2626f2" stroke-width="1.35"/>
<circle cx="1286.9" cy="733.2" r="8.3" fill="#fff" stroke="#2626f2" stroke-width="1.35"/>
<circle cx="1355.3" cy="561.6" r="8.3" fill="#fff" stroke="#2626f2" stroke-width="1.35"/>
<circle cx="1423.8" cy="516.6" r="8.3" fill="#fff" stroke="#2626f2" stroke-width="1.35"/>
<circle cx="1492.3" cy="516.6" r="8.3" fill="#fff" stroke="#2626f2" stroke-width="1.35"/>
<circle cx="1560.8" cy="481.7" r="8.3" fill="#fff" stroke="#2626f2" stroke-width="1.35"/>
<circle cx="1629.3" cy="504.1" r="8.3" fill="#fff" stroke="#2626f2" stroke-width="1.35"/>
<path d="M1013.0,378.7 L1081.4,624.9 L1149.9,580.0 L1218.4,688.3 L1286.9,688.3 L1355.3,530.2 L1423.8,453.3 L1492.3,530.2 L1560.8,504.1 L1629.3,436.8" fill="none" stroke="#2626f2" stroke-width="1.1"/>
<circle cx="1013.0" cy="378.7" r="8.3" fill="#fff" stroke="#2626f2" stroke-width="1.35"/>
<circle cx="1081.4" cy="624.9" r="8.3" fill="#fff" stroke="#2626f2" stroke-width="1.35"/>
<circle cx="1149.9" cy="580.0" r="8.3" fill="#fff" stroke="#2626f2" stroke-width="1.35"/>
<circle cx="1218.4" cy="688.3" r="8.3" fill="#fff" stroke="#2626f2" stroke-width="1.35"/>
<circle cx="1286.9" cy="688.3" r="8.3" fill="#fff" stroke="#2626f2" stroke-width="1.35"/>
<circle cx="1355.3" cy="530.2" r="8.3" fill="#fff" stroke="#2626f2" stroke-width="1.35"/>
<circle cx="1423.8" cy="453.3" r="8.3" fill="#fff" stroke="#2626f2" stroke-width="1.35"/>
<circle cx="1492.3" cy="530.2" r="8.3" fill="#fff" stroke="#2626f2" stroke-width="1.35"/>
<circle cx="1560.8" cy="504.1" r="8.3" fill="#fff" stroke="#2626f2" stroke-width="1.35"/>
<circle cx="1629.3" cy="436.8" r="8.3" fill="#fff" stroke="#2626f2" stroke-width="1.35"/>
<path d="M1013.0,378.7 L1081.4,530.2 L1149.9,530.2 L1218.4,429.2 L1286.9,688.3 L1355.3,561.6 L1423.8,492.5 L1492.3,796.6 L1560.8,504.1 L1629.3,516.6" fill="none" stroke="#2626f2" stroke-width="1.1"/>
<circle cx="1013.0" cy="378.7" r="8.3" fill="#fff" stroke="#2626f2" stroke-width="1.35"/>
<circle cx="1081.4" cy="530.2" r="8.3" fill="#fff" stroke="#2626f2" stroke-width="1.35"/>
<circle cx="1149.9" cy="530.2" r="8.3" fill="#fff" stroke="#2626f2" stroke-width="1.35"/>
<circle cx="1218.4" cy="429.2" r="8.3" fill="#fff" stroke="#2626f2" stroke-width="1.35"/>
<circle cx="1286.9" cy="688.3" r="8.3" fill="#fff" stroke="#2626f2" stroke-width="1.35"/>
<circle cx="1355.3" cy="561.6" r="8.3" fill="#fff" stroke="#2626f2" stroke-width="1.35"/>
<circle cx="1423.8" cy="492.5" r="8.3" fill="#fff" stroke="#2626f2" stroke-width="1.35"/>
<circle cx="1492.3" cy="796.6" r="8.3" fill="#fff" stroke="#2626f2" stroke-width="1.35"/>
<circle cx="1560.8" cy="504.1" r="8.3" fill="#fff" stroke="#2626f2" stroke-width="1.35"/>
<circle cx="1629.3" cy="516.6" r="8.3" fill="#fff" stroke="#2626f2" stroke-width="1.35"/>
<path d="M1013.0,336.5 L1081.4,530.2 L1149.9,504.1 L1218.4,600.8 L1286.9,600.8 L1355.3,688.3 L1423.8,516.6 L1492.3,516.6 L1560.8,462.2 L1629.3,530.2" fill="none" stroke="#2626f2" stroke-width="1.1"/>
<circle cx="1013.0" cy="336.5" r="8.3" fill="#fff" stroke="#2626f2" stroke-width="1.35"/>
<circle cx="1081.4" cy="530.2" r="8.3" fill="#fff" stroke="#2626f2" stroke-width="1.35"/>
<circle cx="1149.9" cy="504.1" r="8.3" fill="#fff" stroke="#2626f2" stroke-width="1.35"/>
<circle cx="1218.4" cy="600.8" r="8.3" fill="#fff" stroke="#2626f2" stroke-width="1.35"/>
<circle cx="1286.9" cy="600.8" r="8.3" fill="#fff" stroke="#2626f2" stroke-width="1.35"/>
<circle cx="1355.3" cy="688.3" r="8.3" fill="#fff" stroke="#2626f2" stroke-width="1.35"/>
<circle cx="1423.8" cy="516.6" r="8.3" fill="#fff" stroke="#2626f2" stroke-width="1.35"/>
<circle cx="1492.3" cy="516.6" r="8.3" fill="#fff" stroke="#2626f2" stroke-width="1.35"/>
<circle cx="1560.8" cy="462.2" r="8.3" fill="#fff" stroke="#2626f2" stroke-width="1.35"/>
<circle cx="1629.3" cy="530.2" r="8.3" fill="#fff" stroke="#2626f2" stroke-width="1.35"/>
<path d="M1013.0,384.2 L1081.4,530.2 L1149.9,516.6 L1218.4,516.6 L1286.9,796.6 L1355.3,600.8 L1423.8,444.8 L1492.3,580.0 L1560.8,471.7 L1629.3,545.1" fill="none" stroke="#2626f2" stroke-width="1.1"/>
<circle cx="1013.0" cy="384.2" r="8.3" fill="#fff" stroke="#2626f2" stroke-width="1.35"/>
<circle cx="1081.4" cy="530.2" r="8.3" fill="#fff" stroke="#2626f2" stroke-width="1.35"/>
<circle cx="1149.9" cy="516.6" r="8.3" fill="#fff" stroke="#2626f2" stroke-width="1.35"/>
<circle cx="1218.4" cy="516.6" r="8.3" fill="#fff" stroke="#2626f2" stroke-width="1.35"/>
<circle cx="1286.9" cy="796.6" r="8.3" fill="#fff" stroke="#2626f2" stroke-width="1.35"/>
<circle cx="1355.3" cy="600.8" r="8.3" fill="#fff" stroke="#2626f2" stroke-width="1.35"/>
<circle cx="1423.8" cy="444.8" r="8.3" fill="#fff" stroke="#2626f2" stroke-width="1.35"/>
<circle cx="1492.3" cy="580.0" r="8.3" fill="#fff" stroke="#2626f2" stroke-width="1.35"/>
<circle cx="1560.8" cy="471.7" r="8.3" fill="#fff" stroke="#2626f2" stroke-width="1.35"/>
<circle cx="1629.3" cy="545.1" r="8.3" fill="#fff" stroke="#2626f2" stroke-width="1.35"/>
<path d="M1013.0,421.9 L1081.4,580.0 L1149.9,580.0 L1218.4,561.6 L1286.9,796.6 L1355.3,624.9 L1423.8,600.8 L1492.3,796.6 L1560.8,600.8 L1629.3,561.6" fill="none" stroke="#2626f2" stroke-width="1.1"/>
<circle cx="1013.0" cy="421.9" r="8.3" fill="#fff" stroke="#2626f2" stroke-width="1.35"/>
<circle cx="1081.4" cy="580.0" r="8.3" fill="#fff" stroke="#2626f2" stroke-width="1.35"/>
<circle cx="1149.9" cy="580.0" r="8.3" fill="#fff" stroke="#2626f2" stroke-width="1.35"/>
<circle cx="1218.4" cy="561.6" r="8.3" fill="#fff" stroke="#2626f2" stroke-width="1.35"/>
<circle cx="1286.9" cy="796.6" r="8.3" fill="#fff" stroke="#2626f2" stroke-width="1.35"/>
<circle cx="1355.3" cy="624.9" r="8.3" fill="#fff" stroke="#2626f2" stroke-width="1.35"/>
<circle cx="1423.8" cy="600.8" r="8.3" fill="#fff" stroke="#2626f2" stroke-width="1.35"/>
<circle cx="1492.3" cy="796.6" r="8.3" fill="#fff" stroke="#2626f2" stroke-width="1.35"/>
<circle cx="1560.8" cy="600.8" r="8.3" fill="#fff" stroke="#2626f2" stroke-width="1.35"/>
<circle cx="1629.3" cy="561.6" r="8.3" fill="#fff" stroke="#2626f2" stroke-width="1.35"/>
<path d="M1013.0,340.7 L1081.4,516.6 L1149.9,429.2 L1218.4,481.7 L1286.9,580.0 L1355.3,624.9 L1423.8,471.7 L1492.3,530.2 L1560.8,481.7 L1629.3,436.8" fill="none" stroke="#2626f2" stroke-width="1.1"/>
<circle cx="1013.0" cy="340.7" r="8.3" fill="#fff" stroke="#2626f2" stroke-width="1.35"/>
<circle cx="1081.4" cy="516.6" r="8.3" fill="#fff" stroke="#2626f2" stroke-width="1.35"/>
<circle cx="1149.9" cy="429.2" r="8.3" fill="#fff" stroke="#2626f2" stroke-width="1.35"/>
<circle cx="1218.4" cy="481.7" r="8.3" fill="#fff" stroke="#2626f2" stroke-width="1.35"/>
<circle cx="1286.9" cy="580.0" r="8.3" fill="#fff" stroke="#2626f2" stroke-width="1.35"/>
<circle cx="1355.3" cy="624.9" r="8.3" fill="#fff" stroke="#2626f2" stroke-width="1.35"/>
<circle cx="1423.8" cy="471.7" r="8.3" fill="#fff" stroke="#2626f2" stroke-width="1.35"/>
<circle cx="1492.3" cy="530.2" r="8.3" fill="#fff" stroke="#2626f2" stroke-width="1.35"/>
<circle cx="1560.8" cy="481.7" r="8.3" fill="#fff" stroke="#2626f2" stroke-width="1.35"/>
<circle cx="1629.3" cy="436.8" r="8.3" fill="#fff" stroke="#2626f2" stroke-width="1.35"/>
<path d="M1013.0,415.0 L1081.4,436.8 L1149.9,453.3 L1218.4,481.7 L1286.9,492.5 L1355.3,545.1 L1423.8,516.6 L1492.3,530.2 L1560.8,580.0 L1629.3,516.6" fill="none" stroke="#2626f2" stroke-width="1.1"/>
<circle cx="1013.0" cy="415.0" r="8.3" fill="#fff" stroke="#2626f2" stroke-width="1.35"/>
<circle cx="1081.4" cy="436.8" r="8.3" fill="#fff" stroke="#2626f2" stroke-width="1.35"/>
<circle cx="1149.9" cy="453.3" r="8.3" fill="#fff" stroke="#2626f2" stroke-width="1.35"/>
<circle cx="1218.4" cy="481.7" r="8.3" fill="#fff" stroke="#2626f2" stroke-width="1.35"/>
<circle cx="1286.9" cy="492.5" r="8.3" fill="#fff" stroke="#2626f2" stroke-width="1.35"/>
<circle cx="1355.3" cy="545.1" r="8.3" fill="#fff" stroke="#2626f2" stroke-width="1.35"/>
<circle cx="1423.8" cy="516.6" r="8.3" fill="#fff" stroke="#2626f2" stroke-width="1.35"/>
<circle cx="1492.3" cy="530.2" r="8.3" fill="#fff" stroke="#2626f2" stroke-width="1.35"/>
<circle cx="1560.8" cy="580.0" r="8.3" fill="#fff" stroke="#2626f2" stroke-width="1.35"/>
<circle cx="1629.3" cy="516.6" r="8.3" fill="#fff" stroke="#2626f2" stroke-width="1.35"/>
<path d="M1013.0,363.3 L1081.4,545.1 L1149.9,492.5 L1218.4,530.2 L1286.9,688.3 L1355.3,516.6 L1423.8,504.1 L1492.3,504.1 L1560.8,545.1 L1629.3,530.2" fill="none" stroke="#2626f2" stroke-width="1.1"/>
<circle cx="1013.0" cy="363.3" r="8.3" fill="#fff" stroke="#2626f2" stroke-width="1.35"/>
<circle cx="1081.4" cy="545.1" r="8.3" fill="#fff" stroke="#2626f2" stroke-width="1.35"/>
<circle cx="1149.9" cy="492.5" r="8.3" fill="#fff" stroke="#2626f2" stroke-width="1.35"/>
<circle cx="1218.4" cy="530.2" r="8.3" fill="#fff" stroke="#2626f2" stroke-width="1.35"/>
<circle cx="1286.9" cy="688.3" r="8.3" fill="#fff" stroke="#2626f2" stroke-width="1.35"/>
<circle cx="1355.3" cy="516.6" r="8.3" fill="#fff" stroke="#2626f2" stroke-width="1.35"/>
<circle cx="1423.8" cy="504.1" r="8.3" fill="#fff" stroke="#2626f2" stroke-width="1.35"/>
<circle cx="1492.3" cy="504.1" r="8.3" fill="#fff" stroke="#2626f2" stroke-width="1.35"/>
<circle cx="1560.8" cy="545.1" r="8.3" fill="#fff" stroke="#2626f2" stroke-width="1.35"/>
<circle cx="1629.3" cy="530.2" r="8.3" fill="#fff" stroke="#2626f2" stroke-width="1.35"/>
<path d="M1013.0,384.2 L1081.4,688.3 L1149.9,600.8 L1218.4,600.8 L1286.9,796.6 L1355.3,624.9 L1423.8,545.1 L1492.3,796.6 L1560.8,600.8 L1629.3,580.0" fill="none" stroke="#2626f2" stroke-width="1.1"/>
<circle cx="1013.0" cy="384.2" r="8.3" fill="#fff" stroke="#2626f2" stroke-width="1.35"/>
<circle cx="1081.4" cy="688.3" r="8.3" fill="#fff" stroke="#2626f2" stroke-width="1.35"/>
<circle cx="1149.9" cy="600.8" r="8.3" fill="#fff" stroke="#2626f2" stroke-width="1.35"/>
<circle cx="1218.4" cy="600.8" r="8.3" fill="#fff" stroke="#2626f2" stroke-width="1.35"/>
<circle cx="1286.9" cy="796.6" r="8.3" fill="#fff" stroke="#2626f2" stroke-width="1.35"/>
<circle cx="1355.3" cy="624.9" r="8.3" fill="#fff" stroke="#2626f2" stroke-width="1.35"/>
<circle cx="1423.8" cy="545.1" r="8.3" fill="#fff" stroke="#2626f2" stroke-width="1.35"/>
<circle cx="1492.3" cy="796.6" r="8.3" fill="#fff" stroke="#2626f2" stroke-width="1.35"/>
<circle cx="1560.8" cy="600.8" r="8.3" fill="#fff" stroke="#2626f2" stroke-width="1.35"/>
<circle cx="1629.3" cy="580.0" r="8.3" fill="#fff" stroke="#2626f2" stroke-width="1.35"/>
<path d="M1013.0,421.9 L1081.4,545.1 L1149.9,561.6 L1218.4,561.6 L1286.9,796.6 L1355.3,600.8 L1423.8,561.6 L1492.3,580.0 L1560.8,545.1 L1629.3,580.0" fill="none" stroke="#2626f2" stroke-width="1.1"/>
<circle cx="1013.0" cy="421.9" r="8.3" fill="#fff" stroke="#2626f2" stroke-width="1.35"/>
<circle cx="1081.4" cy="545.1" r="8.3" fill="#fff" stroke="#2626f2" stroke-width="1.35"/>
<circle cx="1149.9" cy="561.6" r="8.3" fill="#fff" stroke="#2626f2" stroke-width="1.35"/>
<circle cx="1218.4" cy="561.6" r="8.3" fill="#fff" stroke="#2626f2" stroke-width="1.35"/>
<circle cx="1286.9" cy="796.6" r="8.3" fill="#fff" stroke="#2626f2" stroke-width="1.35"/>
<circle cx="1355.3" cy="600.8" r="8.3" fill="#fff" stroke="#2626f2" stroke-width="1.35"/>
<circle cx="1423.8" cy="561.6" r="8.3" fill="#fff" stroke="#2626f2" stroke-width="1.35"/>
<circle cx="1492.3" cy="580.0" r="8.3" fill="#fff" stroke="#2626f2" stroke-width="1.35"/>
<circle cx="1560.8" cy="545.1" r="8.3" fill="#fff" stroke="#2626f2" stroke-width="1.35"/>
<circle cx="1629.3" cy="580.0" r="8.3" fill="#fff" stroke="#2626f2" stroke-width="1.35"/>
<path d="M1013.0,415.0 L1081.4,504.1 L1149.9,545.1 L1218.4,545.1 L1286.9,796.6 L1355.3,688.3 L1423.8,530.2 L1492.3,545.1 L1560.8,580.0 L1629.3,545.1" fill="none" stroke="#2626f2" stroke-width="1.1"/>
<circle cx="1013.0" cy="415.0" r="8.3" fill="#fff" stroke="#2626f2" stroke-width="1.35"/>
<circle cx="1081.4" cy="504.1" r="8.3" fill="#fff" stroke="#2626f2" stroke-width="1.35"/>
<circle cx="1149.9" cy="545.1" r="8.3" fill="#fff" stroke="#2626f2" stroke-width="1.35"/>
<circle cx="1218.4" cy="545.1" r="8.3" fill="#fff" stroke="#2626f2" stroke-width="1.35"/>
<circle cx="1286.9" cy="796.6" r="8.3" fill="#fff" stroke="#2626f2" stroke-width="1.35"/>
<circle cx="1355.3" cy="688.3" r="8.3" fill="#fff" stroke="#2626f2" stroke-width="1.35"/>
<circle cx="1423.8" cy="530.2" r="8.3" fill="#fff" stroke="#2626f2" stroke-width="1.35"/>
<circle cx="1492.3" cy="545.1" r="8.3" fill="#fff" stroke="#2626f2" stroke-width="1.35"/>
<circle cx="1560.8" cy="580.0" r="8.3" fill="#fff" stroke="#2626f2" stroke-width="1.35"/>
<circle cx="1629.3" cy="545.1" r="8.3" fill="#fff" stroke="#2626f2" stroke-width="1.35"/>
<path d="M1013.0,384.2 L1081.4,516.6 L1149.9,561.6 L1218.4,545.1 L1286.9,733.2 L1355.3,653.4 L1423.8,561.6 L1492.3,530.2 L1560.8,545.1 L1629.3,561.6" fill="none" stroke="#2626f2" stroke-width="1.1"/>
<circle cx="1013.0" cy="384.2" r="8.3" fill="#fff" stroke="#2626f2" stroke-width="1.35"/>
<circle cx="1081.4" cy="516.6" r="8.3" fill="#fff" stroke="#2626f2" stroke-width="1.35"/>
<circle cx="1149.9" cy="561.6" r="8.3" fill="#fff" stroke="#2626f2" stroke-width="1.35"/>
<circle cx="1218.4" cy="545.1" r="8.3" fill="#fff" stroke="#2626f2" stroke-width="1.35"/>
<circle cx="1286.9" cy="733.2" r="8.3" fill="#fff" stroke="#2626f2" stroke-width="1.35"/>
<circle cx="1355.3" cy="653.4" r="8.3" fill="#fff" stroke="#2626f2" stroke-width="1.35"/>
<circle cx="1423.8" cy="561.6" r="8.3" fill="#fff" stroke="#2626f2" stroke-width="1.35"/>
<circle cx="1492.3" cy="530.2" r="8.3" fill="#fff" stroke="#2626f2" stroke-width="1.35"/>
<circle cx="1560.8" cy="545.1" r="8.3" fill="#fff" stroke="#2626f2" stroke-width="1.35"/>
<circle cx="1629.3" cy="561.6" r="8.3" fill="#fff" stroke="#2626f2" stroke-width="1.35"/>
<path d="M1013.0,384.2 L1081.4,580.0 L1149.9,545.1 L1218.4,492.5 L1286.9,796.6 L1355.3,600.8 L1423.8,545.1 L1492.3,561.6 L1560.8,516.6 L1629.3,492.5" fill="none" stroke="#2626f2" stroke-width="1.1"/>
<circle cx="1013.0" cy="384.2" r="8.3" fill="#fff" stroke="#2626f2" stroke-width="1.35"/>
<circle cx="1081.4" cy="580.0" r="8.3" fill="#fff" stroke="#2626f2" stroke-width="1.35"/>
<circle cx="1149.9" cy="545.1" r="8.3" fill="#fff" stroke="#2626f2" stroke-width="1.35"/>
<circle cx="1218.4" cy="492.5" r="8.3" fill="#fff" stroke="#2626f2" stroke-width="1.35"/>
<circle cx="1286.9" cy="796.6" r="8.3" fill="#fff" stroke="#2626f2" stroke-width="1.35"/>
<circle cx="1355.3" cy="600.8" r="8.3" fill="#fff" stroke="#2626f2" stroke-width="1.35"/>
<circle cx="1423.8" cy="545.1" r="8.3" fill="#fff" stroke="#2626f2" stroke-width="1.35"/>
<circle cx="1492.3" cy="561.6" r="8.3" fill="#fff" stroke="#2626f2" stroke-width="1.35"/>
<circle cx="1560.8" cy="516.6" r="8.3" fill="#fff" stroke="#2626f2" stroke-width="1.35"/>
<circle cx="1629.3" cy="492.5" r="8.3" fill="#fff" stroke="#2626f2" stroke-width="1.35"/>
<path d="M1013.0,363.3 L1081.4,600.8 L1149.9,492.5 L1218.4,545.1 L1286.9,733.2 L1355.3,545.1 L1423.8,504.1 L1492.3,688.3 L1560.8,530.2 L1629.3,580.0" fill="none" stroke="#2626f2" stroke-width="1.1"/>
<circle cx="1013.0" cy="363.3" r="8.3" fill="#fff" stroke="#2626f2" stroke-width="1.35"/>
<circle cx="1081.4" cy="600.8" r="8.3" fill="#fff" stroke="#2626f2" stroke-width="1.35"/>
<circle cx="1149.9" cy="492.5" r="8.3" fill="#fff" stroke="#2626f2" stroke-width="1.35"/>
<circle cx="1218.4" cy="545.1" r="8.3" fill="#fff" stroke="#2626f2" stroke-width="1.35"/>
<circle cx="1286.9" cy="733.2" r="8.3" fill="#fff" stroke="#2626f2" stroke-width="1.35"/>
<circle cx="1355.3" cy="545.1" r="8.3" fill="#fff" stroke="#2626f2" stroke-width="1.35"/>
<circle cx="1423.8" cy="504.1" r="8.3" fill="#fff" stroke="#2626f2" stroke-width="1.35"/>
<circle cx="1492.3" cy="688.3" r="8.3" fill="#fff" stroke="#2626f2" stroke-width="1.35"/>
<circle cx="1560.8" cy="530.2" r="8.3" fill="#fff" stroke="#2626f2" stroke-width="1.35"/>
<circle cx="1629.3" cy="580.0" r="8.3" fill="#fff" stroke="#2626f2" stroke-width="1.35"/>
<path d="M1013.0,363.3 L1081.4,504.1 L1149.9,561.6 L1218.4,492.5 L1286.9,504.1 L1355.3,516.6 L1423.8,545.1 L1492.3,516.6 L1560.8,530.2 L1629.3,471.7" fill="none" stroke="#2626f2" stroke-width="1.1"/>
<circle cx="1013.0" cy="363.3" r="8.3" fill="#fff" stroke="#2626f2" stroke-width="1.35"/>
<circle cx="1081.4" cy="504.1" r="8.3" fill="#fff" stroke="#2626f2" stroke-width="1.35"/>
<circle cx="1149.9" cy="561.6" r="8.3" fill="#fff" stroke="#2626f2" stroke-width="1.35"/>
<circle cx="1218.4" cy="492.5" r="8.3" fill="#fff" stroke="#2626f2" stroke-width="1.35"/>
<circle cx="1286.9" cy="504.1" r="8.3" fill="#fff" stroke="#2626f2" stroke-width="1.35"/>
<circle cx="1355.3" cy="516.6" r="8.3" fill="#fff" stroke="#2626f2" stroke-width="1.35"/>
<circle cx="1423.8" cy="545.1" r="8.3" fill="#fff" stroke="#2626f2" stroke-width="1.35"/>
<circle cx="1492.3" cy="516.6" r="8.3" fill="#fff" stroke="#2626f2" stroke-width="1.35"/>
<circle cx="1560.8" cy="530.2" r="8.3" fill="#fff" stroke="#2626f2" stroke-width="1.35"/>
<circle cx="1629.3" cy="471.7" r="8.3" fill="#fff" stroke="#2626f2" stroke-width="1.35"/>
<path d="M1013.0,421.9 L1081.4,545.1 L1149.9,462.2 L1218.4,561.6 L1286.9,796.6 L1355.3,688.3 L1423.8,561.6 L1492.3,600.8 L1560.8,545.1 L1629.3,545.1" fill="none" stroke="#2626f2" stroke-width="1.1"/>
<circle cx="1013.0" cy="421.9" r="8.3" fill="#fff" stroke="#2626f2" stroke-width="1.35"/>
<circle cx="1081.4" cy="545.1" r="8.3" fill="#fff" stroke="#2626f2" stroke-width="1.35"/>
<circle cx="1149.9" cy="462.2" r="8.3" fill="#fff" stroke="#2626f2" stroke-width="1.35"/>
<circle cx="1218.4" cy="561.6" r="8.3" fill="#fff" stroke="#2626f2" stroke-width="1.35"/>
<circle cx="1286.9" cy="796.6" r="8.3" fill="#fff" stroke="#2626f2" stroke-width="1.35"/>
<circle cx="1355.3" cy="688.3" r="8.3" fill="#fff" stroke="#2626f2" stroke-width="1.35"/>
<circle cx="1423.8" cy="561.6" r="8.3" fill="#fff" stroke="#2626f2" stroke-width="1.35"/>
<circle cx="1492.3" cy="600.8" r="8.3" fill="#fff" stroke="#2626f2" stroke-width="1.35"/>
<circle cx="1560.8" cy="545.1" r="8.3" fill="#fff" stroke="#2626f2" stroke-width="1.35"/>
<circle cx="1629.3" cy="545.1" r="8.3" fill="#fff" stroke="#2626f2" stroke-width="1.35"/>
<path d="M1013.0,349.3 L1081.4,530.2 L1149.9,504.1 L1218.4,530.2 L1286.9,796.6 L1355.3,530.2 L1423.8,545.1 L1492.3,545.1 L1560.8,453.3 L1629.3,561.6" fill="none" stroke="#2626f2" stroke-width="1.1"/>
<circle cx="1013.0" cy="349.3" r="8.3" fill="#fff" stroke="#2626f2" stroke-width="1.35"/>
<circle cx="1081.4" cy="530.2" r="8.3" fill="#fff" stroke="#2626f2" stroke-width="1.35"/>
<circle cx="1149.9" cy="504.1" r="8.3" fill="#fff" stroke="#2626f2" stroke-width="1.35"/>
<circle cx="1218.4" cy="530.2" r="8.3" fill="#fff" stroke="#2626f2" stroke-width="1.35"/>
<circle cx="1286.9" cy="796.6" r="8.3" fill="#fff" stroke="#2626f2" stroke-width="1.35"/>
<circle cx="1355.3" cy="530.2" r="8.3" fill="#fff" stroke="#2626f2" stroke-width="1.35"/>
<circle cx="1423.8" cy="545.1" r="8.3" fill="#fff" stroke="#2626f2" stroke-width="1.35"/>
<circle cx="1492.3" cy="545.1" r="8.3" fill="#fff" stroke="#2626f2" stroke-width="1.35"/>
<circle cx="1560.8" cy="453.3" r="8.3" fill="#fff" stroke="#2626f2" stroke-width="1.35"/>
<circle cx="1629.3" cy="561.6" r="8.3" fill="#fff" stroke="#2626f2" stroke-width="1.35"/>
<path d="M1013.0,349.3 L1081.4,481.7 L1149.9,545.1 L1218.4,504.1 L1286.9,688.3 L1355.3,653.4 L1423.8,471.7 L1492.3,504.1 L1560.8,516.6 L1629.3,453.3" fill="none" stroke="#2626f2" stroke-width="1.1"/>
<circle cx="1013.0" cy="349.3" r="8.3" fill="#fff" stroke="#2626f2" stroke-width="1.35"/>
<circle cx="1081.4" cy="481.7" r="8.3" fill="#fff" stroke="#2626f2" stroke-width="1.35"/>
<circle cx="1149.9" cy="545.1" r="8.3" fill="#fff" stroke="#2626f2" stroke-width="1.35"/>
<circle cx="1218.4" cy="504.1" r="8.3" fill="#fff" stroke="#2626f2" stroke-width="1.35"/>
<circle cx="1286.9" cy="688.3" r="8.3" fill="#fff" stroke="#2626f2" stroke-width="1.35"/>
<circle cx="1355.3" cy="653.4" r="8.3" fill="#fff" stroke="#2626f2" stroke-width="1.35"/>
<circle cx="1423.8" cy="471.7" r="8.3" fill="#fff" stroke="#2626f2" stroke-width="1.35"/>
<circle cx="1492.3" cy="504.1" r="8.3" fill="#fff" stroke="#2626f2" stroke-width="1.35"/>
<circle cx="1560.8" cy="516.6" r="8.3" fill="#fff" stroke="#2626f2" stroke-width="1.35"/>
<circle cx="1629.3" cy="453.3" r="8.3" fill="#fff" stroke="#2626f2" stroke-width="1.35"/>
<path d="M1013.0,363.3 L1081.4,516.6 L1149.9,545.1 L1218.4,516.6 L1286.9,796.6 L1355.3,580.0 L1423.8,516.6 L1492.3,733.2 L1560.8,530.2 L1629.3,545.1" fill="none" stroke="#2626f2" stroke-width="1.1"/>
<circle cx="1013.0" cy="363.3" r="8.3" fill="#fff" stroke="#2626f2" stroke-width="1.35"/>
<circle cx="1081.4" cy="516.6" r="8.3" fill="#fff" stroke="#2626f2" stroke-width="1.35"/>
<circle cx="1149.9" cy="545.1" r="8.3" fill="#fff" stroke="#2626f2" stroke-width="1.35"/>
<circle cx="1218.4" cy="516.6" r="8.3" fill="#fff" stroke="#2626f2" stroke-width="1.35"/>
<circle cx="1286.9" cy="796.6" r="8.3" fill="#fff" stroke="#2626f2" stroke-width="1.35"/>
<circle cx="1355.3" cy="580.0" r="8.3" fill="#fff" stroke="#2626f2" stroke-width="1.35"/>
<circle cx="1423.8" cy="516.6" r="8.3" fill="#fff" stroke="#2626f2" stroke-width="1.35"/>
<circle cx="1492.3" cy="733.2" r="8.3" fill="#fff" stroke="#2626f2" stroke-width="1.35"/>
<circle cx="1560.8" cy="530.2" r="8.3" fill="#fff" stroke="#2626f2" stroke-width="1.35"/>
<circle cx="1629.3" cy="545.1" r="8.3" fill="#fff" stroke="#2626f2" stroke-width="1.35"/>
<path d="M1013.0,336.5 L1081.4,453.3 L1149.9,421.9 L1218.4,481.7 L1286.9,545.1 L1355.3,580.0 L1423.8,421.9 L1492.3,600.8 L1560.8,436.8 L1629.3,530.2" fill="none" stroke="#2626f2" stroke-width="1.1"/>
<circle cx="1013.0" cy="336.5" r="8.3" fill="#fff" stroke="#2626f2" stroke-width="1.35"/>
<circle cx="1081.4" cy="453.3" r="8.3" fill="#fff" stroke="#2626f2" stroke-width="1.35"/>
<circle cx="1149.9" cy="421.9" r="8.3" fill="#fff" stroke="#2626f2" stroke-width="1.35"/>
<circle cx="1218.4" cy="481.7" r="8.3" fill="#fff" stroke="#2626f2" stroke-width="1.35"/>
<circle cx="1286.9" cy="545.1" r="8.3" fill="#fff" stroke="#2626f2" stroke-width="1.35"/>
<circle cx="1355.3" cy="580.0" r="8.3" fill="#fff" stroke="#2626f2" stroke-width="1.35"/>
<circle cx="1423.8" cy="421.9" r="8.3" fill="#fff" stroke="#2626f2" stroke-width="1.35"/>
<circle cx="1492.3" cy="600.8" r="8.3" fill="#fff" stroke="#2626f2" stroke-width="1.35"/>
<circle cx="1560.8" cy="436.8" r="8.3" fill="#fff" stroke="#2626f2" stroke-width="1.35"/>
<circle cx="1629.3" cy="530.2" r="8.3" fill="#fff" stroke="#2626f2" stroke-width="1.35"/>
<path d="M1013.0,349.3 L1081.4,504.1 L1149.9,530.2 L1218.4,504.1 L1286.9,796.6 L1355.3,530.2 L1423.8,545.1 L1492.3,561.6 L1560.8,516.6 L1629.3,516.6" fill="none" stroke="#2626f2" stroke-width="1.1"/>
<circle cx="1013.0" cy="349.3" r="8.3" fill="#fff" stroke="#2626f2" stroke-width="1.35"/>
<circle cx="1081.4" cy="504.1" r="8.3" fill="#fff" stroke="#2626f2" stroke-width="1.35"/>
<circle cx="1149.9" cy="530.2" r="8.3" fill="#fff" stroke="#2626f2" stroke-width="1.35"/>
<circle cx="1218.4" cy="504.1" r="8.3" fill="#fff" stroke="#2626f2" stroke-width="1.35"/>
<circle cx="1286.9" cy="796.6" r="8.3" fill="#fff" stroke="#2626f2" stroke-width="1.35"/>
<circle cx="1355.3" cy="530.2" r="8.3" fill="#fff" stroke="#2626f2" stroke-width="1.35"/>
<circle cx="1423.8" cy="545.1" r="8.3" fill="#fff" stroke="#2626f2" stroke-width="1.35"/>
<circle cx="1492.3" cy="561.6" r="8.3" fill="#fff" stroke="#2626f2" stroke-width="1.35"/>
<circle cx="1560.8" cy="516.6" r="8.3" fill="#fff" stroke="#2626f2" stroke-width="1.35"/>
<circle cx="1629.3" cy="516.6" r="8.3" fill="#fff" stroke="#2626f2" stroke-width="1.35"/>
<path d="M1013.0,340.7 L1081.4,481.7 L1149.9,408.3 L1218.4,504.1 L1286.9,545.1 L1355.3,504.1 L1423.8,504.1 L1492.3,653.4 L1560.8,530.2 L1629.3,444.8" fill="none" stroke="#2626f2" stroke-width="1.1"/>
<circle cx="1013.0" cy="340.7" r="8.3" fill="#fff" stroke="#2626f2" stroke-width="1.35"/>
<circle cx="1081.4" cy="481.7" r="8.3" fill="#fff" stroke="#2626f2" stroke-width="1.35"/>
<circle cx="1149.9" cy="408.3" r="8.3" fill="#fff" stroke="#2626f2" stroke-width="1.35"/>
<circle cx="1218.4" cy="504.1" r="8.3" fill="#fff" stroke="#2626f2" stroke-width="1.35"/>
<circle cx="1286.9" cy="545.1" r="8.3" fill="#fff" stroke="#2626f2" stroke-width="1.35"/>
<circle cx="1355.3" cy="504.1" r="8.3" fill="#fff" stroke="#2626f2" stroke-width="1.35"/>
<circle cx="1423.8" cy="504.1" r="8.3" fill="#fff" stroke="#2626f2" stroke-width="1.35"/>
<circle cx="1492.3" cy="653.4" r="8.3" fill="#fff" stroke="#2626f2" stroke-width="1.35"/>
<circle cx="1560.8" cy="530.2" r="8.3" fill="#fff" stroke="#2626f2" stroke-width="1.35"/>
<circle cx="1629.3" cy="444.8" r="8.3" fill="#fff" stroke="#2626f2" stroke-width="1.35"/>
<text transform="translate(30.9,720.3) rotate(-90) scale(1,1.04)" font-size="34.3">NT<tspan font-size="22" dy="4">50</tspan><tspan dy="-4"> (50% Neutralization Titer)</tspan></text>
<line x1="1152" y1="16.2" x2="1217.8" y2="16.2" stroke="#ff0000" stroke-width="3"/>
<circle cx="1185.4" cy="16.1" r="9.4" fill="#fff" stroke="#ff0000" stroke-width="2"/>
<line x1="1152" y1="60.2" x2="1217.8" y2="60.2" stroke="#0000ff" stroke-width="3"/>
<circle cx="1185.4" cy="60.2" r="9.4" fill="#fff" stroke="#0000ff" stroke-width="2"/>
<rect x="1165" y="92.1" width="43.3" height="24.9" fill="#fbe5d6" stroke="#000" stroke-width="2"/>
<rect x="1165" y="134.8" width="43.3" height="24.9" fill="#dae3f3" stroke="#000" stroke-width="2"/>
<text transform="translate(1230,25) scale(1,1.04)" font-size="25.65">High responders (n=15)</text>
<text transform="translate(1230,66.8) scale(1,1.04)" font-size="25.65">Moderate responders (n=30)</text>
<text transform="translate(1230,114.4) scale(1,1.04)" font-size="25.65">Average of high responders</text>
<text transform="translate(1230,156.5) scale(1,1.04)" font-size="25.65">Average of moderate responders</text>
</svg></body></html>
